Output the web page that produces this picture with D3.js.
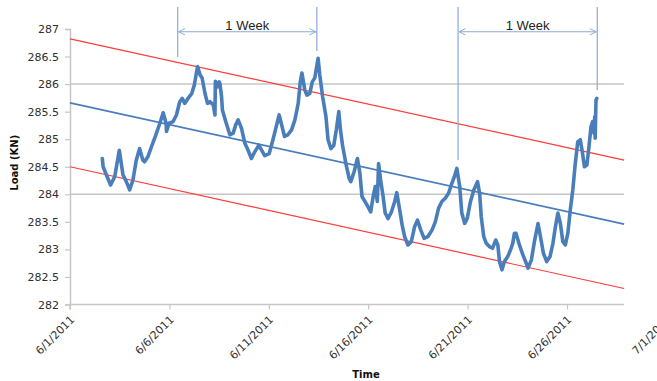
<!DOCTYPE html>
<html>
<head>
<meta charset="utf-8">
<script src="https://cdn.jsdelivr.net/npm/d3@7"></script>
<style>
  html, body { margin: 0; padding: 0; background: #fff; }
  svg { display: block; }
  .tick text { font-family: "DejaVu Sans", Verdana, sans-serif; font-size: 11px; fill: #303030; }
</style>
</head>
<body>
<svg id="chart" width="657" height="381"></svg>
<script>
// Load readings (time stamp, load in kN), June 2011
const times = [
  "06-02 15:00","06-02 16:00","06-02 20:00","06-03 01:00","06-03 06:00","06-03 11:30","06-03 16:00","06-03 20:00",
  "06-04 00:00","06-04 04:00","06-04 08:00","06-04 12:00","06-04 16:00","06-04 18:00","06-04 22:00",
  "06-05 03:00","06-05 07:00","06-05 12:30","06-05 16:30","06-05 20:00","06-05 20:30","06-05 23:30",
  "06-06 04:30","06-06 08:30","06-06 12:30","06-06 15:30","06-06 18:30","06-06 22:30",
  "06-07 03:00","06-07 06:00","06-07 10:00","06-07 13:00","06-07 15:30","06-07 19:00","06-07 22:00",
  "06-08 01:00","06-08 05:00","06-08 07:00","06-08 07:30","06-08 10:00","06-08 12:00","06-08 13:00","06-08 15:00","06-08 16:00","06-08 20:00",
  "06-09 01:00","06-09 05:00","06-09 08:00","06-09 11:00","06-09 15:00","06-09 19:00","06-09 23:00",
  "06-10 03:00","06-10 07:00","06-10 12:00","06-10 16:30","06-10 19:00",
  "06-11 00:30","06-11 05:00","06-11 09:00","06-11 12:30","06-11 16:00","06-11 19:00","06-11 23:00",
  "06-12 03:30","06-12 07:30","06-12 11:30","06-12 14:00","06-12 16:00","06-12 19:30","06-12 22:00",
  "06-13 01:30","06-13 04:30","06-13 07:30","06-13 11:30","06-13 13:30","06-13 17:00","06-13 21:00","06-13 23:30",
  "06-14 03:00","06-14 06:30","06-14 09:30","06-14 12:30","06-14 14:30","06-14 17:00","06-14 21:00",
  "06-15 01:00","06-15 03:00","06-15 07:00","06-15 11:00","06-15 14:00","06-15 16:30","06-15 20:00","06-15 23:30",
  "06-16 03:00","06-16 06:00","06-16 08:30","06-16 11:00","06-16 12:30","06-16 15:00","06-16 18:00","06-16 20:30",
  "06-17 00:00","06-17 04:00","06-17 08:00","06-17 10:30","06-17 14:00","06-17 17:00","06-17 20:00",
  "06-18 00:00","06-18 04:00","06-18 08:00","06-18 11:30","06-18 15:30","06-18 19:30",
  "06-19 00:00","06-19 05:00","06-19 09:00","06-19 13:00","06-19 17:00","06-19 21:00",
  "06-20 01:00","06-20 05:00","06-20 08:00","06-20 11:00","06-20 14:30","06-20 17:00","06-20 20:30","06-20 23:30",
  "06-21 03:30","06-21 07:30","06-21 12:00","06-21 14:30","06-21 16:30","06-21 19:30","06-21 22:30",
  "06-22 02:30","06-22 06:00","06-22 10:00","06-22 12:30","06-22 14:30","06-22 17:30","06-22 20:30",
  "06-23 00:30","06-23 04:30","06-23 06:30","06-23 08:30","06-23 10:30","06-23 14:00","06-23 18:00","06-23 22:00",
  "06-24 01:00","06-24 05:00","06-24 09:00","06-24 13:00","06-24 16:00","06-24 19:30","06-24 23:30",
  "06-25 03:30","06-25 07:00","06-25 10:00","06-25 13:00","06-25 16:00","06-25 19:00","06-25 22:00",
  "06-26 01:00","06-26 04:00","06-26 07:00","06-26 10:00","06-26 13:00","06-26 16:00","06-26 18:30","06-26 21:00",
  "06-27 00:00","06-27 02:30","06-27 05:00","06-27 07:00","06-27 08:30","06-27 09:30","06-27 10:00","06-27 11:00","06-27 12:00"
];
const loads = [
  284.65,284.50,284.35,284.17,284.32,284.80,284.35,284.23,
  284.08,284.26,284.62,284.83,284.62,284.59,284.68,
  284.89,285.05,285.29,285.48,285.29,285.14,285.29,
  285.32,285.44,285.68,285.74,285.65,285.74,
  285.83,285.98,286.32,286.17,286.11,285.83,285.65,
  285.68,285.62,285.44,286.05,285.95,286.04,286.01,285.77,285.53,285.32,
  285.08,285.11,285.26,285.35,285.20,284.93,284.80,
  284.65,284.77,284.89,284.77,284.70,
  284.74,284.99,285.23,285.44,285.23,285.05,285.08,
  285.17,285.35,285.65,286.04,286.20,285.89,285.80,
  285.83,286.04,286.11,286.47,286.17,285.77,285.41,284.99,
  284.83,284.89,285.17,285.50,285.17,284.89,284.56,
  284.29,284.23,284.41,284.65,284.38,283.96,283.87,283.78,
  283.68,283.96,284.14,283.87,284.56,284.26,283.96,283.66,
  283.56,283.68,283.87,284.03,283.72,283.44,283.23,
  283.08,283.14,283.41,283.53,283.35,283.20,
  283.23,283.35,283.50,283.75,283.87,283.93,
  284.02,284.20,284.32,284.47,284.14,283.66,283.47,283.56,
  283.87,284.08,284.23,284.02,283.59,283.23,283.11,
  283.05,283.02,283.17,283.08,282.78,282.63,282.78,
  282.87,283.02,283.11,283.29,283.29,283.11,282.93,282.78,
  282.66,282.81,283.17,283.47,283.23,282.93,282.78,
  282.87,283.11,283.41,283.66,283.47,283.14,283.08,
  283.29,283.72,284.08,284.56,284.95,284.99,284.77,284.50,
  284.53,284.86,285.23,285.32,285.11,285.41,285.02,285.71,285.74
];

// Linear trend and its upper / lower band
const trendTimes = ["06-01 00:00", "06-28 21:00"];
const trendMid   = [285.66, 283.46];
const trendUpper = [286.82, 284.62];
const trendLower = [284.50, 282.29];

// One-week spans marked above the plot
const weekStarts = ["06-06 10:00", "06-20 12:30"];
const weekEnds   = ["06-13 10:00", "06-27 12:30"];
const weekLabel  = "1 Week";
const weekTop    = 287.4;                // top of the marker lines
const weekArrow  = 286.95;               // level of the double arrow
const weekStartFoot = [286.49, 284.62];  // where each start marker stops
const weekEndFoot   = [286.60, 285.89];  // where each end marker stops

// Axis ticks
const xTickDates = ["06-01 00:00","06-06 00:00","06-11 00:00","06-16 00:00","06-21 00:00","06-26 00:00","07-01 00:00"];
const yTicks = [282, 282.5, 283, 283.5, 284, 284.5, 285, 285.5, 286, 286.5, 287];
const yGrid = [284, 286];

const parse = d3.timeParse("%Y-%m-%d %H:%M");
const t = s => parse("2011-" + s);

const svg = d3.select("#chart");
const margin = { left: 70, top: 29, bottom: 304.5 };

const x = d3.scaleTime()
  .domain([t("06-01 00:00"), t("07-01 00:00")])
  .range([margin.left, margin.left + 596.4]);
const y = d3.scaleLinear()
  .domain([282, 287])
  .range([margin.bottom, margin.top]);

const plotRight = 624;
const gridColor = "#c6c6c6";

// Horizontal gridlines
svg.append("g").selectAll("line").data(yGrid).join("line")
  .attr("x1", margin.left).attr("x2", plotRight)
  .attr("y1", d => y(d)).attr("y2", d => y(d))
  .attr("stroke", gridColor).attr("stroke-width", 1.5);

// Y axis
const yAxis = svg.append("g")
  .attr("transform", `translate(${margin.left},0)`)
  .call(d3.axisLeft(y).tickValues(yTicks).tickSize(5).tickPadding(6).tickFormat(d3.format("")));
yAxis.select(".domain").attr("stroke", gridColor).attr("stroke-width", 1.5);
yAxis.selectAll(".tick line").attr("stroke", gridColor).attr("stroke-width", 1.2);

// X axis
const xAxis = svg.append("g")
  .attr("transform", `translate(0,${margin.bottom})`)
  .call(d3.axisBottom(x).tickValues(xTickDates.map(t)).tickSize(5).tickFormat(d3.timeFormat("%-m/%-d/%Y")));
xAxis.select(".domain").attr("stroke", gridColor).attr("stroke-width", 1.5)
  .attr("d", `M${margin.left},5V0H${plotRight}`);
xAxis.selectAll(".tick line").attr("stroke", gridColor).attr("stroke-width", 1.2);
xAxis.selectAll(".tick text")
  .attr("text-anchor", "end")
  .attr("dy", "0.35em")
  .attr("transform", "translate(2,13) rotate(-45)")
  .attr("y", 0).attr("x", 0);

// Axis titles
svg.append("text")
  .attr("transform", `translate(18,${(margin.top + margin.bottom) / 2 - 4}) rotate(-90)`)
  .attr("text-anchor", "middle")
  .attr("font-family", "DejaVu Sans, Verdana, sans-serif")
  .attr("font-weight", "bold").attr("font-size", 10).attr("fill", "#111")
  .text("Load (KN)");
svg.append("text")
  .attr("x", 366).attr("y", 378)
  .attr("text-anchor", "middle")
  .attr("font-family", "DejaVu Sans, Verdana, sans-serif")
  .attr("font-weight", "bold").attr("font-size", 10).attr("fill", "#111")
  .text("Time");

// Trend band
const trendLine = d3.line().x(d => x(d[0])).y(d => y(d[1]));
const tt = trendTimes.map(t);
[[trendUpper, "#ff3b3b"], [trendLower, "#ff3b3b"], [trendMid, "#4a7ebb"]].forEach(([vals, color]) => {
  svg.append("path")
    .datum(tt.map((d, i) => [d, vals[i]]))
    .attr("fill", "none").attr("stroke", color)
    .attr("stroke-width", color === "#4a7ebb" ? 1.7 : 1.2)
    .attr("d", trendLine);
});

// Load series
const series = times.map((s, i) => [t(s), loads[i]]);
svg.append("path")
  .datum(series)
  .attr("fill", "none")
  .attr("stroke", "#4a7ebb")
  .attr("stroke-width", 3.6)
  .attr("stroke-linejoin", "round")
  .attr("stroke-linecap", "round")
  .attr("d", trendLine);

// Week markers
const markColor = "#8aaad6";
const defs = svg.append("defs");
["start", "end"].forEach(k => {
  defs.append("marker")
    .attr("id", "chev-" + k)
    .attr("viewBox", "0 0 10 10").attr("refX", k === "end" ? 9 : 1).attr("refY", 5)
    .attr("markerWidth", 8).attr("markerHeight", 8).attr("markerUnits", "userSpaceOnUse")
    .attr("orient", "auto")
    .append("path")
    .attr("d", k === "end" ? "M1,1L9,5L1,9" : "M9,1L1,5L9,9")
    .attr("fill", "none").attr("stroke", markColor).attr("stroke-width", 1.2);
});

weekStarts.forEach((s, i) => {
  const x0 = x(t(s)), x1 = x(t(weekEnds[i]));
  const g = svg.append("g");
  g.append("line").attr("x1", x0).attr("x2", x0)
    .attr("y1", y(weekTop)).attr("y2", y(weekStartFoot[i]))
    .attr("stroke", markColor).attr("stroke-width", 1.2);
  g.append("line").attr("x1", x1).attr("x2", x1)
    .attr("y1", y(weekTop)).attr("y2", y(weekEndFoot[i]))
    .attr("stroke", markColor).attr("stroke-width", 1.2);
  g.append("line").attr("x1", x0 + 1).attr("x2", x1 - 1)
    .attr("y1", y(weekArrow)).attr("y2", y(weekArrow))
    .attr("stroke", markColor).attr("stroke-width", 1.2)
    .attr("marker-start", "url(#chev-start)").attr("marker-end", "url(#chev-end)");
  g.append("text")
    .attr("x", (x0 + x1) / 2).attr("y", y(weekArrow) - 2)
    .attr("text-anchor", "middle")
    .attr("font-family", "Liberation Sans, Arial, sans-serif")
    .attr("font-size", 13).attr("fill", "#222")
    .text(weekLabel);
});
</script>
</body>
</html>
